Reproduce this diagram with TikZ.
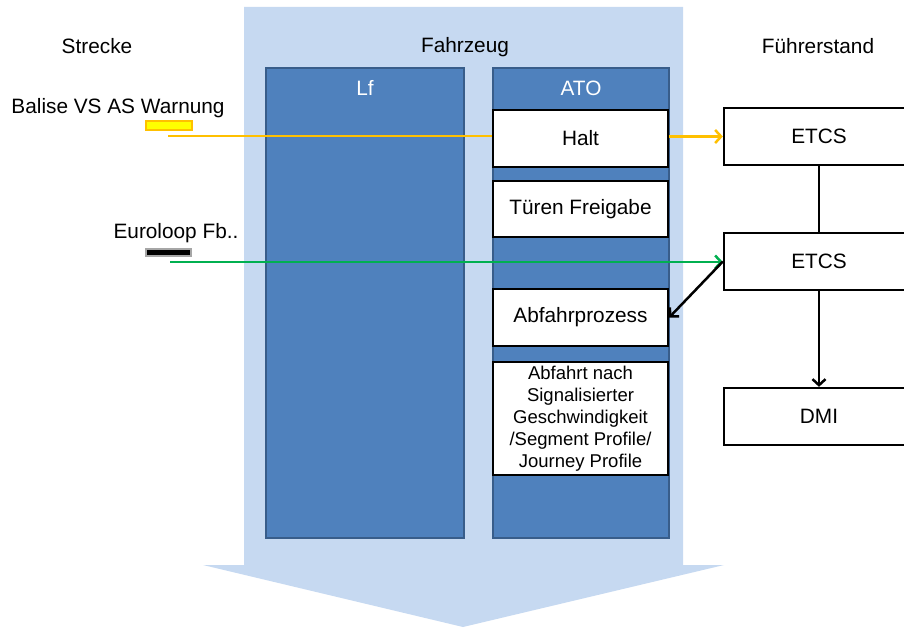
\documentclass[tikz,border=0pt]{standalone}
\usepackage{fontspec}
\setmainfont{Liberation Sans}
\usetikzlibrary{arrows.meta}
\definecolor{paleblue}{HTML}{C6D9F1}
\definecolor{midblue}{HTML}{4F81BD}
\definecolor{edgeblue}{HTML}{385D8A}
\definecolor{amber}{HTML}{FFC000}
\definecolor{signalyellow}{HTML}{FFFF00}
\definecolor{signalgreen}{HTML}{00B050}

\begin{document}
\begin{tikzpicture}[x=1pt,y=-1pt,
  every node/.style={font=\fontsize{20.8}{25}\selectfont, inner sep=0pt},
  block/.style={draw=black, line width=2.3pt, fill=white, minimum width=175pt, minimum height=57pt, align=center},
  rblock/.style={draw=black, line width=2.3pt, fill=white, minimum width=190pt, minimum height=57pt},
  column/.style={draw=edgeblue, line width=1.5pt, fill=midblue, minimum width=198pt, minimum height=470pt},
  coltitle/.style={text=white},
  heading/.style={text=black},
  link/.style={line width=2.5pt, -{Straight Barb[length=6pt,width=13pt,line width=2.5pt]}},
  plainlink/.style={line width=2.5pt},
]
\useasboundingbox (0,0) rectangle (904,628);

% broad arrow behind the vehicle columns
\fill[paleblue] (244,7) -- (683,7) -- (683,565) -- (724,565) -- (463,627)
  -- (203,565) -- (244,565) -- cycle;

% section headings
\node[heading] (strecke) at (97,46) {Strecke};
\node[heading] (fahrzeug) at (465,47) {Fahrzeug};
\node[heading] (fuehrerstand) at (818,46) {Führerstand};

% vehicle columns
\node[column] (lf) at (365,303) {};
\node[column, minimum width=176pt] (ato) at (581,303) {};
\node[coltitle] (lftitle) at (365,88) {Lf};
\node[coltitle] (atotitle) at (581,88) {ATO};

% ATO functions
\node[block] (halt) at (580.5,138.5) {Halt};
\node[block, minimum height=56pt] (tueren) at (580.5,209) {Türen Freigabe};
\node[block] (abfahrt) at (580.5,317.5) {Abfahrprozess};
\node[block, minimum height=113pt, font=\fontsize{18.5}{22}\selectfont] (profil) at (580.5,418.5)
  {Abfahrt nach\\Signalisierter\\Geschwindigkeit\\/Segment Profile/\\Journey Profile};

% driver cab
\node[rblock] (etcsA) at (819,136.5) {ETCS};
\node[rblock] (etcsB) at (819,261.5) {ETCS};
\node[rblock] (dmi) at (819,416.5) {DMI};

% trackside equipment
\node[heading] (balise) at (118,108) {Balise VS AS Warnung};
\node[draw=amber, fill=signalyellow, line width=2pt, minimum width=46pt, minimum height=9pt] (balisemark) at (168.5,126) {};
\node[heading] (euroloop) at (176,233) {Euroloop Fb..};
\node[draw=black!35, fill=black, line width=2pt, minimum width=45pt, minimum height=7pt] (loopmark) at (168.5,252.5) {};
\coordinate (balstart) at (168,136);
\coordinate (loopstart) at (170,262);

% signal paths
\draw[plainlink, amber] (balstart) -- (balstart -| halt.west);
\draw[link, amber] (halt.east |- etcsA.west) -- (etcsA.west);
\draw[link, signalgreen] (loopstart) -- (loopstart -| etcsB.west);
\draw[link] (etcsB.west) -- (abfahrt.east);
\draw[plainlink] (etcsA.south) -- (etcsB.north);
\draw[link] (etcsB.south) -- (dmi.north);
\end{tikzpicture}
\end{document}
